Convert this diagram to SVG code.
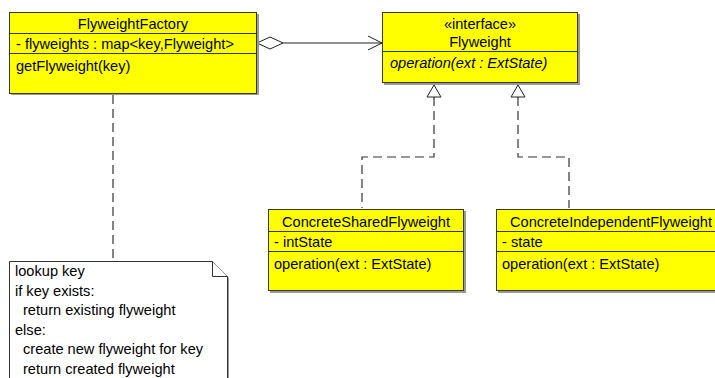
<svg xmlns="http://www.w3.org/2000/svg" width="715" height="378" viewBox="0 0 715 378">
<defs>
<style>
text{font-family:"Liberation Sans",Arial,sans-serif;font-size:14.6px;fill:#000}
.box{fill:#ffff00;stroke:#3a3a10;stroke-width:1}
.shadow{fill:#999}
.sep{stroke:#3a3a10;stroke-width:1}
.c{text-anchor:middle}
.it{font-style:italic}
.line{fill:none;stroke:#222;stroke-width:1}
.dash{fill:none;stroke:#333;stroke-width:1.2;stroke-dasharray:9,5}
.note{fill:#fff;stroke:#333;stroke-width:1}
</style>
</defs>
<rect width="715" height="378" fill="#fff"/>
<g id="connectors">
<path class="line" d="M283,43 L382,43"/>
<path class="line" d="M257,43 L270,37 L283,43 L270,49 Z" fill="#fff"/>
<path class="line" d="M368,36 L382,43 L368,50"/>
<path class="dash" d="M113,95 L113,261"/>
<path class="dash" d="M434,97 L434,157 L362,157 L362,208"/>
<path class="dash" d="M518,97 L518,157 L569,157 L569,208"/>
<path class="line" d="M434,85 L441,97 L427,97 Z" fill="#fff"/>
<path class="line" d="M518,85 L525,97 L511,97 Z" fill="#fff"/>
</g>
<g id="FlyweightFactory">
<rect class="shadow" x="11" y="14" width="248" height="81"/>
<rect class="box" x="9.5" y="12.5" width="247" height="81"/>
<line class="sep" x1="9.5" y1="33.5" x2="256.5" y2="33.5"/>
<line class="sep" x1="9.5" y1="53.5" x2="256.5" y2="53.5"/>
<text class="c" x="133" y="29">FlyweightFactory</text>
<text x="16" y="49">- flyweights : map&lt;key,Flyweight&gt;</text>
<text x="16" y="71">getFlyweight(key)</text>
</g>
<g id="Flyweight">
<rect class="shadow" x="384" y="14" width="196" height="71"/>
<rect class="box" x="382.5" y="12.5" width="195" height="70"/>
<line class="sep" x1="382.5" y1="51.5" x2="577.5" y2="51.5"/>
<text class="c" x="480" y="29">«interface»</text>
<text class="c" x="480" y="47">Flyweight</text>
<text class="it" x="390" y="68">operation(ext : ExtState)</text>
</g>
<g id="ConcreteSharedFlyweight">
<rect class="shadow" x="270" y="211" width="196" height="82"/>
<rect class="box" x="268.5" y="209.5" width="195" height="81"/>
<line class="sep" x1="268.5" y1="231.5" x2="463.5" y2="231.5"/>
<line class="sep" x1="268.5" y1="251.5" x2="463.5" y2="251.5"/>
<text class="c" x="366" y="227">ConcreteSharedFlyweight</text>
<text x="274" y="247">- intState</text>
<text x="274" y="269">operation(ext : ExtState)</text>
</g>
<g id="ConcreteIndependentFlyweight">
<rect class="shadow" x="498" y="211" width="230" height="82"/>
<rect class="box" x="496.5" y="209.5" width="228" height="81"/>
<line class="sep" x1="496.5" y1="231.5" x2="724.5" y2="231.5"/>
<line class="sep" x1="496.5" y1="251.5" x2="724.5" y2="251.5"/>
<text class="c" x="611" y="227">ConcreteIndependentFlyweight</text>
<text x="502" y="247">- state</text>
<text x="502" y="269">operation(ext : ExtState)</text>
</g>
<g id="note">
<path d="M11,263 L214,263 L229,278 L229,380 L11,380 Z" fill="#999"/>
<path class="note" d="M9.5,261.5 L212.5,261.5 L227.5,276.5 L227.5,380 L9.5,380 Z"/>
<path class="note" d="M212.5,261.5 L212.5,276.5 L227.5,276.5"/>
<text x="15" y="276">lookup key</text>
<text x="15" y="295.5">if key exists:</text>
<text x="23" y="315">return existing flyweight</text>
<text x="15" y="334.5">else:</text>
<text x="23" y="354">create new flyweight for key</text>
<text x="23" y="373.5">return created flyweight</text>
</g>
</svg>
